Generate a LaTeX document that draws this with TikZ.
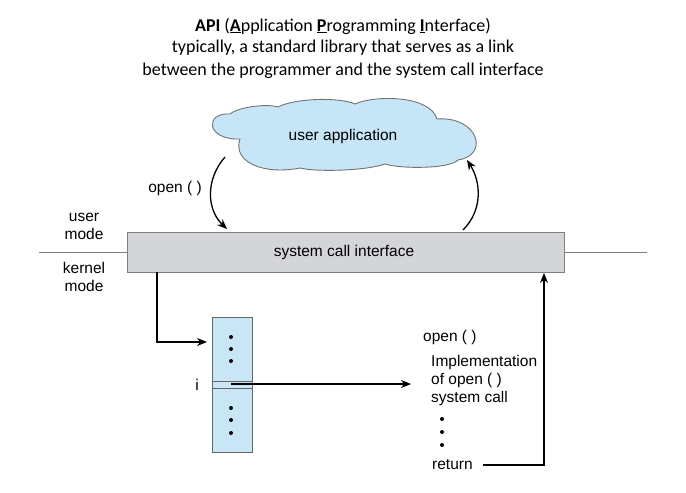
\documentclass[tikz,border=0pt]{standalone}
\usepackage{fontspec}
\setmainfont{Liberation Sans}
\newfontfamily\titlefont{Carlito}
\usetikzlibrary{arrows.meta}
\definecolor{cloudblue}{HTML}{C6E6F7}
\definecolor{tabblue}{HTML}{C8E6F6}
\definecolor{boxgray}{HTML}{D3D5D8}
\definecolor{edgegray}{HTML}{7F7F7F}
\tikzset{
  lbl/.style={font=\fontsize{15.5}{18}\selectfont, inner sep=0pt},
  arr/.style={draw=black, line width=1.3pt, -{Stealth[length=10pt,width=8pt]}},
  dotmark/.style={circle, fill=black, inner sep=0pt, minimum size=4pt},
  ttl/.style={font=\titlefont\fontsize{18}{22.5}\selectfont, inner sep=0pt},
  cloudline/.style={draw=edgegray!90!black, fill=cloudblue, line width=0.9pt}
}
\begin{document}
\begin{tikzpicture}[x=1pt,y=-1pt]
\useasboundingbox (0,0) rectangle (686,493);
% title
\node[ttl] (t1) at (343,26) {\textbf{API} (\underline{\textbf{A}}pplication \underline{\textbf{P}}rogramming \underline{\textbf{I}}nterface)};
\node[ttl] (t2) at (343,48) {typically, a standard library that serves as a link};
\node[ttl] (t3) at (343,71) {between the programmer and the system call interface};
% mode line
\coordinate (ml) at (39,252);
\coordinate (mr) at (647,252);
\draw[edgegray, line width=1pt] (ml) -- (mr);
% system call interface box
\node[draw=edgegray, fill=boxgray, line width=1pt, minimum width=437pt, minimum height=40pt, inner sep=0pt] (sci) at (345.5,252) {};
\node[lbl] (scitext) at (344,252) {system call interface};
% mode labels
\node[lbl, align=center] (um) at (84,226) {user\\mode};
\node[lbl, align=center] (km) at (84,277) {kernel\\mode};
% cloud
\path[cloudline] (230,114) .. controls (236,108) and (265,103) .. (278,107)
  .. controls (295,98) and (340,97) .. (355,104)
  .. controls (375,95) and (430,95) .. (437,119)
  .. controls (478,116) and (490,155) .. (458,160)
  .. controls (450,169) and (400,169) .. (385,164)
  .. controls (365,171) and (315,172) .. (300,168)
  .. controls (265,175) and (232,163) .. (240,139)
  .. controls (205,140) and (205,112) .. (230,114) -- cycle;
\node[lbl] (ua) at (343,136) {user application};
% curved arrows
\coordinate (la0) at (225,157);
\coordinate (la1) at (227,229);
\draw[arr] (la0) .. controls (205,180) and (207,210) .. (la1);
\coordinate (ra0) at (463,230);
\coordinate (ra1) at (467,160);
\draw[arr] (ra0) .. controls (483,210) and (481,182) .. (ra1);
\node[lbl] (open1) at (175,188) {open ( )};
% table
\node[draw=edgegray!80!black, fill=tabblue, line width=1pt, minimum width=40pt, minimum height=135pt, inner sep=0pt] (tab) at (232,384.5) {};
\draw[edgegray!80!black, line width=1pt] (212,381) -- (252,381) (212,388) -- (252,388);
\node[dotmark] (d1) at (231,337) {};
\node[dotmark] (d2) at (231,349) {};
\node[dotmark] (d3) at (231,361) {};
\node[dotmark] (d4) at (231,408) {};
\node[dotmark] (d5) at (231,420) {};
\node[dotmark] (d6) at (231,433) {};
\node[lbl] (ilab) at (197,385) {i};
% arrow into table
\coordinate (c0) at (157,272);
\coordinate (c1) at (157,342);
\coordinate (c2) at (207,342);
\draw[arr] (c0) -- (c1) -- (c2);
% arrow from entry i
\coordinate (e0) at (231,384);
\coordinate (e1) at (411,384);
\draw[arr] (e0) -- (e1);
% implementation text
\node[lbl, anchor=west] (open2) at (423,337) {open ( )};
\node[lbl, anchor=north west, align=left] (impl) at (431,355) {Implementation\\of open ( )\\system call};
\node[dotmark] (d7) at (442,419) {};
\node[dotmark] (d8) at (442,432) {};
\node[dotmark] (d9) at (442,445) {};
\node[lbl, anchor=west] (ret) at (432,465) {return};
\coordinate (r0) at (483,465);
\coordinate (r1) at (544,465);
\coordinate (r2) at (544,273);
\draw[arr] (r0) -- (r1) -- (r2);
\end{tikzpicture}
\end{document}
